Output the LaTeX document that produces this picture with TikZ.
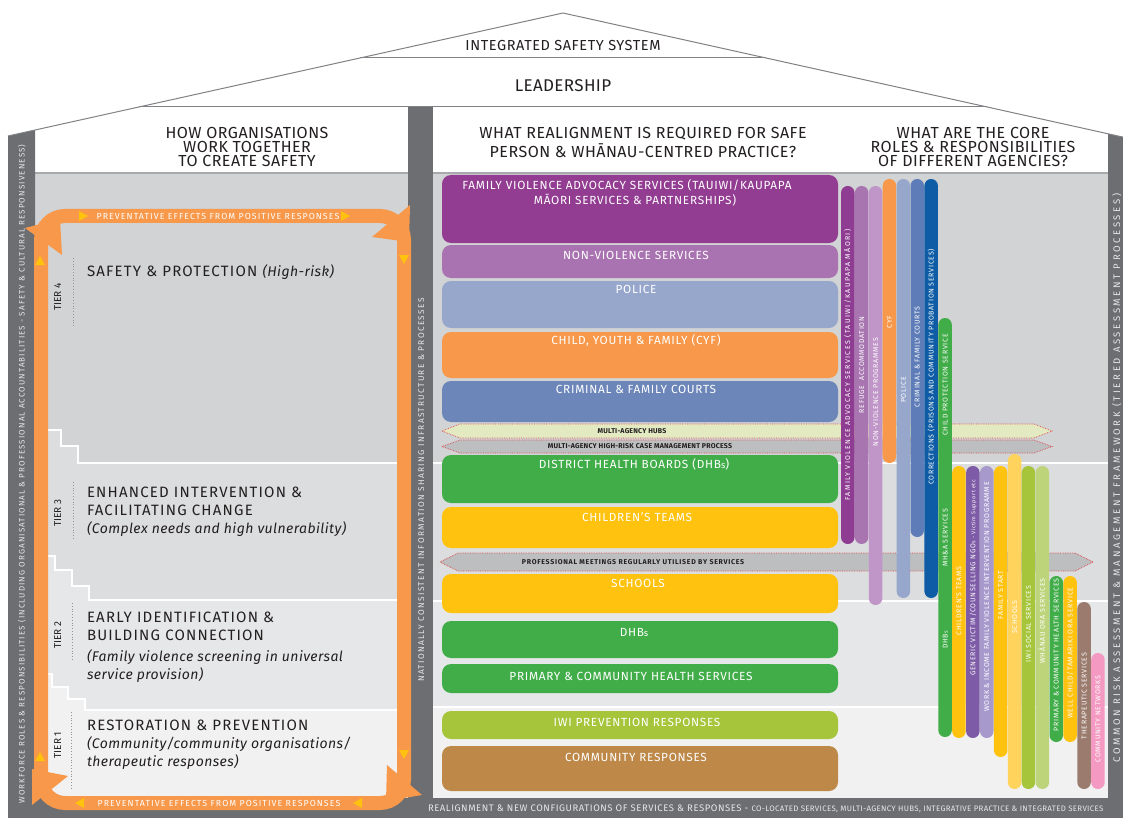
\documentclass[tikz,border=0pt]{standalone}
\usepackage{fontspec}
\setmainfont{Fira Sans}
\definecolor{wallgray}{HTML}{6D6E71}
\definecolor{roofln}{HTML}{808285}
\definecolor{hdrln}{HTML}{A7A9AC}
\definecolor{txt}{HTML}{231F20}
\definecolor{walltxt}{HTML}{E6E7E8}
\definecolor{tfour}{HTML}{D1D3D4}
\definecolor{tthree}{HTML}{DCDDDE}
\definecolor{ttwo}{HTML}{E6E7E8}
\definecolor{tone}{HTML}{F1F1F2}
\definecolor{band}{HTML}{F7984A}
\definecolor{ytri}{HTML}{FFC20E}
\definecolor{dotgray}{HTML}{939598}
\definecolor{fvas}{HTML}{923C92}
\definecolor{nvs}{HTML}{A972B0}
\definecolor{police}{HTML}{97A7CC}
\definecolor{cyf}{HTML}{F7984A}
\definecolor{courts}{HTML}{6C86B9}
\definecolor{hubs}{HTML}{E3EAC2}
\definecolor{grayarr}{HTML}{BCBEC0}
\definecolor{reddot}{HTML}{E0474C}
\definecolor{dhb}{HTML}{41AD49}
\definecolor{yel}{HTML}{FFC20E}
\definecolor{lime}{HTML}{A6C53A}
\definecolor{brown}{HTML}{BE8849}
\definecolor{fvasv}{HTML}{8F3D92}
\definecolor{refuge}{HTML}{A875B1}
\definecolor{nvprog}{HTML}{C095C8}
\definecolor{courtsv}{HTML}{5E7DB8}
\definecolor{corr}{HTML}{0D5CA5}
\definecolor{genp}{HTML}{7D5BA6}
\definecolor{winc}{HTML}{A899CD}
\definecolor{schoolv}{HTML}{FFD35C}
\definecolor{llime}{HTML}{BDD47B}
\definecolor{therap}{HTML}{9B7B6E}
\definecolor{pink}{HTML}{F49AC2}
\newcommand\sss{\scalebox{0.78}{s}}
\newcommand\vbr[4]{\fill[fill=#4, rounded corners=6.7pt] ({841+13.9*#1},#2) rectangle ({854.5+13.9*#1},#3);}
\newcommand\vlab[4]{\node[vtext] (#1) at ({850.2+13.9*#2},#3) {#4};}
\newcommand\harr[6]{\path[fill=#5, draw=reddot, densely dotted, line width=0.7pt] (#1,{(#3+#4)/2}) -- ({#1+#6},#3) -- ({#2-#6},#3) -- (#2,{(#3+#4)/2}) -- ({#2-#6},#4) -- ({#1+#6},#4) -- cycle;}
\begin{document}
\begin{tikzpicture}[x=1pt,y=-1pt,
  every node/.style={inner sep=0pt, outer sep=0pt},
  hdr/.style={font=\fontsize{16}{18}\selectfont\addfontfeature{LetterSpace=3}, text=txt, anchor=base},
  tiertitle/.style={font=\fontsize{15}{17}\selectfont\addfontfeature{LetterSpace=8}, text=txt, anchor=base west},
  tierit/.style={font=\itshape\fontsize{14}{17}\selectfont\addfontfeature{LetterSpace=3}, text=txt, anchor=base west},
  tierlab/.style={font=\fontsize{10}{12}\selectfont, text=txt, rotate=90, anchor=base},
  htext/.style={font=\fontsize{11.8}{13}\selectfont\addfontfeature{LetterSpace=6}, text=white, anchor=base},
  atext/.style={font=\bfseries\fontsize{7}{8}\selectfont\addfontfeature{LetterSpace=3}, text=txt, anchor=base},
  vtext/.style={font=\fontsize{7}{8}\selectfont\addfontfeature{LetterSpace=10}, text=white, rotate=90, anchor=base},
  walltext/.style={font=\fontsize{8}{9}\selectfont\addfontfeature{LetterSpace=14}, text=walltxt, rotate=90, anchor=base},
  bandtext/.style={font=\fontsize{8.8}{10}\selectfont\addfontfeature{LetterSpace=12}, text=white, anchor=base},
  hb/.style={rounded corners=9pt},
  dotln/.style={draw=dotgray, dotted, line width=0.8pt},
  whiteln/.style={draw=white, line width=1.6pt},
]
\useasboundingbox (0,0) rectangle (1123,818);
\fill[white] (0,0) rectangle (1123,818);

% ---------- left panel tiers
\fill[tone] (35,174) rectangle (408,798);
\fill[ttwo] (35,174) -- (408,174) -- (408,710) -- (85,710) -- (85,699) -- (68,699) -- (68,687) -- (52,687) -- (52,674) -- (35,674) -- cycle;
\fill[tthree] (35,174) -- (408,174) -- (408,600) -- (89,600) -- (89,586) -- (72,586) -- (72,570) -- (55,570) -- (55,556) -- (35,556) -- cycle;
\fill[tfour] (35,174) -- (408,174) -- (408,463) -- (78,463) -- (78,446) -- (61,446) -- (61,430) -- (35,430) -- cycle;
\draw[whiteln] (46,430) -- (61,430) -- (61,446) -- (78,446) -- (78,463) -- (400,463);
\draw[whiteln] (46,556) -- (55,556) -- (55,570) -- (72,570) -- (72,586) -- (89,586) -- (89,600) -- (400,600);
\draw[whiteln] (46,674) -- (52,674) -- (52,687) -- (68,687) -- (68,699) -- (85,699) -- (85,710) -- (400,710);

% ---------- right panel tiers
\fill[tfour] (433,174) rectangle (1108,463);
\fill[tthree] (433,463) rectangle (1108,601);
\fill[ttwo] (433,601) rectangle (1108,707);
\fill[tone] (433,707) rectangle (1108,798);
\draw[whiteln] (433,463) -- (1108,463);
\draw[whiteln] (433,601) -- (1108,601);
\draw[whiteln] (433,707) -- (1108,707);

% header separator
\draw[hdrln, line width=1.5pt] (35,173) -- (408,173);
\draw[hdrln, line width=1.5pt] (433,173) -- (1108,173);

% ---------- walls
\fill[wallgray] (8,136) -- (35,130) -- (35,818) -- (8,818) -- cycle;
\fill[wallgray] (1108,133.8) -- (1123,137.1) -- (1123,818) -- (1108,818) -- cycle;
\fill[wallgray] (8,798) rectangle (1123,818);
\fill[wallgray] (408,107) rectangle (433,798);

% ---------- roof
\draw[roofln, line width=1pt] (8,136) -- (563,13) -- (1123,137.1);
\draw[roofln, line width=1pt] (360,58) -- (766,58);
\draw[roofln, line width=1pt] (139,107) -- (987,107);
\node[font=\fontsize{14.5}{16}\selectfont\addfontfeature{LetterSpace=4}, text=txt, anchor=base] (iss) at (563,50.5) {INTEGRATED SAFETY SYSTEM};
\node[font=\fontsize{17}{19}\selectfont\addfontfeature{LetterSpace=2}, text=txt, anchor=base] (lead) at (563,91.5) {LEADERSHIP};

% headers
\node[hdr] (h1a) at (247,139) {HOW ORGANISATIONS};
\node[hdr] (h1b) at (247,153) {WORK TOGETHER};
\node[hdr] (h1c) at (247,167) {TO CREATE SAFETY};
\node[hdr] (h2a) at (643,139) {WHAT REALIGNMENT IS REQUIRED FOR SAFE};
\node[hdr] (h2b) at (643,158) {PERSON \& WHĀNAU-CENTRED PRACTICE?};
\node[hdr] (h3a) at (973,139) {WHAT ARE THE CORE};
\node[hdr] (h3b) at (973,153) {ROLES \& RESPONSIBILITIES};
\node[hdr] (h3c) at (973,167) {OF DIFFERENT AGENCIES?};

% wall texts
\node[walltext] (wl) at (24.5,474) {WORKFORCE ROLES \& RESPONSIBILITIES (INCLUDING ORGANISATIONAL \& PROFESSIONAL ACCOUNTABILITIES - SAFETY \& CULTURAL RESPONSIVENESS)};
\node[walltext, font=\fontsize{8.3}{9}\selectfont\addfontfeature{LetterSpace=16}] (wm) at (424,490) {NATIONALLY CONSISTENT INFORMATION SHARING INFRASTRUCTURE \& PROCESSES};
\node[walltext, font=\fontsize{9.5}{10}\selectfont\addfontfeature{LetterSpace=28}] (wr) at (1120,478) {COMMON RISK ASSESSMENT \& MANAGEMENT FRAMEWORK (TIERED ASSESSMENT PROCESSES)};
\node[font=\fontsize{9.5}{10}\selectfont\addfontfeature{LetterSpace=6}, text=walltxt, anchor=base west] (wb) at (428,811.5) {REALIGNMENT \& NEW CONFIGURATIONS OF SERVICES \& RESPONSES - {\fontsize{7.9}{8}\selectfont\addfontfeature{LetterSpace=4}CO-LOCATED SERVICES, MULTI-AGENCY HUBS, INTEGRATIVE PRACTICE \& INTEGRATED SERVICES}};

% ---------- orange loop
\draw[band, line width=14pt, rounded corners=24pt] (41,216) rectangle (404,803);
\fill[band] (25,228) -- (62,255) -- (60,219) -- cycle;
\fill[band] (372,237) -- (410,205) -- (409,242) -- cycle;
\fill[band] (387,765) -- (422,795) -- (386,801) -- cycle;
\fill[band] (32,805) -- (68,776) -- (32,769) -- cycle;
\fill[ytri] (79,211) -- (88,216) -- (79,221) -- cycle;
\fill[ytri] (341,211) -- (350,216) -- (341,221) -- cycle;
\fill[ytri] (84,798) -- (75,803) -- (84,808) -- cycle;
\fill[ytri] (362,798) -- (353,803) -- (362,808) -- cycle;
\fill[ytri] (35,265) -- (40,256) -- (45,265) -- cycle;
\fill[ytri] (35,761) -- (40,752) -- (45,761) -- cycle;
\fill[ytri] (399,255) -- (404,264) -- (409,255) -- cycle;
\fill[ytri] (399,750) -- (404,759) -- (409,750) -- cycle;
\node[bandtext] (bt) at (218,219) {PREVENTATIVE EFFECTS FROM POSITIVE RESPONSES};
\node[bandtext] (bb) at (219,806) {PREVENTATIVE EFFECTS FROM POSITIVE RESPONSES};

% ---------- tiers
\node[tierlab] (tl4) at (61,297) {TIER 4};
\node[tierlab] (tl3) at (61,513) {TIER 3};
\node[tierlab] (tl2) at (61,635) {TIER 2};
\node[tierlab] (tl1) at (61,745) {TIER 1};
\draw[dotln] (73,258) -- (73,326);
\draw[dotln] (73,482) -- (73,540);
\draw[dotln] (72,603) -- (72,660);
\draw[dotln] (71,712) -- (71,790);
\node[tiertitle] (t4a) at (87,276) {SAFETY \& PROTECTION {\itshape\fontsize{14}{17}\selectfont\addfontfeature{LetterSpace=3}(High-risk)}};
\node[tiertitle] (t3a) at (87,497) {ENHANCED INTERVENTION \&};
\node[tiertitle] (t3b) at (87,515) {FACILITATING CHANGE};
\node[tierit] (t3c) at (87,533) {(Complex needs and high vulnerability)};
\node[tiertitle] (t2a) at (87,622) {EARLY IDENTIFICATION \&};
\node[tiertitle] (t2b) at (87,640) {BUILDING CONNECTION};
\node[tierit] (t2c) at (87,661) {(Family violence screening in universal};
\node[tierit] (t2d) at (87,679) {service provision)};
\node[tiertitle] (t1a) at (87,730) {RESTORATION \& PREVENTION};
\node[tierit] (t1b) at (87,748) {(Community/community organisations/};
\node[tierit] (t1c) at (87,766) {therapeutic responses)};

% ---------- horizontal bars
\fill[hb, fvas] (442,175) rectangle (838,243);
\fill[hb, nvs] (442,245) rectangle (838,278);
\fill[hb, police] (442,281) rectangle (838,328);
\fill[hb, cyf] (442,332) rectangle (838,378);
\fill[hb, courts] (442,381) rectangle (838,422);
\fill[hb, dhb] (442,455) rectangle (838,503);
\fill[hb, yel] (442,507) rectangle (838,548);
\fill[hb, yel] (442,574) rectangle (838,613);
\fill[hb, dhb] (442,621) rectangle (838,658);
\fill[hb, dhb] (442,664) rectangle (838,693);
\fill[hb, lime] (442,711) rectangle (838,739);
\fill[hb, brown] (442,746) rectangle (838,791);
\node[htext] (b1a) at (627,189.5) {FAMILY VIOLENCE ADVOCACY SERVICES (TAUIWI/KAUPAPA};
\node[htext] (b1b) at (635,204.5) {MĀORI SERVICES \& PARTNERSHIPS)};
\node[htext] (b2) at (636,259.5) {NON-VIOLENCE SERVICES};
\node[htext] (b3) at (636,293.5) {POLICE};
\node[htext] (b4) at (636,344.5) {CHILD, YOUTH \& FAMILY (CYF)};
\node[htext] (b5) at (636,393.5) {CRIMINAL \& FAMILY COURTS};
\node[htext] (b6) at (634,468.5) {DISTRICT HEALTH BOARDS (DHB\sss)};
\node[htext] (b7) at (637,521.5) {CHILDREN’S TEAMS};
\node[htext] (b8) at (638,587.5) {SCHOOLS};
\node[htext] (b9) at (634,636.5) {DHB\sss};
\node[htext] (b10) at (631,680.5) {PRIMARY \& COMMUNITY HEALTH SERVICES};
\node[htext] (b11) at (637,726.5) {IWI PREVENTION RESPONSES};
\node[htext] (b12) at (636,761.5) {COMMUNITY RESPONSES};

% ---------- process arrows
\harr{442}{1052}{424}{438}{hubs}{18}
\harr{442}{1052}{440}{453}{grayarr}{18}
\harr{440}{1093}{553}{571}{grayarr}{18}
\node[atext] (a1) at (632,433.8) {MULTI-AGENCY HUBS};
\node[atext] (a2) at (640,448.8) {MULTI-AGENCY HIGH-RISK CASE MANAGEMENT PROCESS};
\node[atext, font=\bfseries\fontsize{7}{8}\selectfont\addfontfeature{LetterSpace=10}] (a3) at (633,564.8) {PROFESSIONAL MEETINGS REGULARLY UTILISED BY SERVICES};

% ---------- vertical bars
\vbr{0}{186}{544}{fvasv}
\vbr{1}{186}{544}{refuge}
\vbr{2}{186}{605}{nvprog}
\vbr{3}{179}{463}{cyf}
\vbr{4}{179}{598}{police}
\vbr{5}{179}{537}{courtsv}
\vbr{6}{179}{598}{corr}
\vbr{7}{318}{737}{dhb}
\vbr{8}{466}{738}{yel}
\vbr{9}{466}{738}{genp}
\vbr{10}{466}{738}{winc}
\vbr{11}{466}{757}{yel}
\vbr{12}{454}{789}{schoolv}
\vbr{13}{466}{789}{lime}
\vbr{14}{466}{789}{llime}
\vbr{15}{576}{742}{dhb}
\vbr{16}{576}{742}{yel}
\vbr{17}{602}{789}{therap}
\vbr{18}{653}{789}{pink}
\vlab{v0}{0}{365}{\addfontfeature{LetterSpace=20}FAMILY VIOLENCE ADVOCACY SERVICES (TAUIWI/KAUPAPA MĀORI)}
\vlab{v1}{1}{365}{REFUGE \ ACCOMMODATION}
\vlab{v2}{2}{392}{NON-VIOLENCE PROGRAMMES}
\vlab{v3}{3}{322}{CYF}
\vlab{v4}{4}{390}{POLICE}
\vlab{v5}{5}{357}{CRIMINAL \& FAMILY COURTS}
\vlab{v6}{6}{367}{CORRECTIONS (PRISONS AND COMMUNITY PROBATION SERVICES)}
\vlab{v7a}{7}{385}{CHILD PROTECTION SERVICE}
\vlab{v7b}{7}{538}{MH\&A SERVICES}
\vlab{v7c}{7}{640}{DHB\sss}
\vlab{v8}{8}{601}{CHILDREN’S TEAMS}
\vlab{v9}{9}{578}{GENERIC VICTIM/COUNSELLING NGO\sss{} {\fontsize{5.5}{6}\selectfont - Victim Support etc}}
\vlab{v10}{10}{597}{WORK \& INCOME FAMILY VIOLENCE INTERVENTION PROGRAMME}
\vlab{v11}{11}{595}{FAMILY START}
\vlab{v12}{12}{617}{SCHOOLS}
\vlab{v13}{13}{624}{IWI SOCIAL SERVICES}
\vlab{v14}{14}{621}{WHĀNAU ORA SERVICES}
\vlab{v15}{15}{655}{PRIMARY \& COMMUNITY HEALTH SERVICES}
\vlab{v16}{16}{653}{WELL CHILD/TAMARIKI ORA SERVICE}
\vlab{v17}{17}{696}{THERAPEUTIC SERVICES}
\vlab{v18}{18}{719}{COMMUNITY NETWORKS}
\end{tikzpicture}
\end{document}
